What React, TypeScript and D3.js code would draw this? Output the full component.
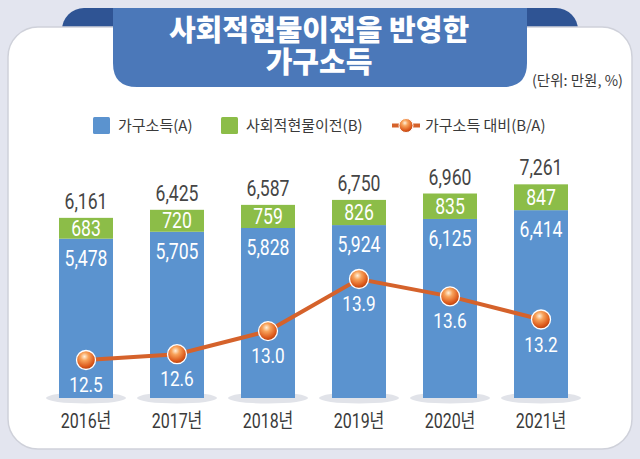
import React from 'react';
import * as d3 from 'd3';

const W = 640;
const H = 459;

const years = ['2016년', '2017년', '2018년', '2019년', '2020년', '2021년'];
const householdIncome = [5478, 5705, 5828, 5924, 6125, 6414];
const socialTransfer = [683, 720, 759, 826, 835, 847];
const ratio = [12.5, 12.6, 13.0, 13.9, 13.6, 13.2];

const titleLines = ['사회적현물이전을 반영한', '가구소득'];
const unitLabel = '(단위: 만원, %)';
const legendLabels = ['가구소득(A)', '사회적현물이전(B)', '가구소득 대비(B/A)'];

const C = {
  bg: '#e3e5ef',
  card: '#ffffff',
  banner: '#4b78b9',
  tab: '#2f5494',
  blue: '#5b93cf',
  green: '#8cbd48',
  line: '#d5622b',
  text: '#3a3a3a',
  shadow: '#e1e3e9',
};

const numFont = "Roboto, 'Noto Sans CJK KR', sans-serif";
const korFont = "'Noto Sans CJK KR', 'Noto Sans', sans-serif";

function CText({ x, y, sx = 0.8, size, fill, weight = 400, family = numFont, anchor = 'middle', children }: any) {
  return (
    <text
      transform={`translate(${x},${y}) scale(${sx},1)`}
      textAnchor={anchor}
      fontFamily={family}
      fontSize={size}
      fontWeight={weight}
      fill={fill}
    >
      {children}
    </text>
  );
}

export default function App() {
  const x = d3
    .scaleBand<string>()
    .domain(years)
    .range([40.5, 586.5])
    .paddingInner(0.4066)
    .paddingOuter(0.2033);
  const y = d3.scaleLinear().domain([250, 7600]).range([398, 174]);
  const yr = d3.scaleLinear().domain([12.5, 13.9]).range([360, 279]);
  const fmt = d3.format(',');
  const bw = x.bandwidth();
  const cx = (d: string) => (x(d) as number) + bw / 2;

  const linePath = d3
    .line<number>()
    .x((_, i) => cx(years[i]))
    .y((d) => yr(d))(ratio) as string;

  return (
    <svg width={W} height={H} style={{ position: 'fixed', left: 0, top: 0 }}>
      <defs>
        <radialGradient id="ball" cx="0.42" cy="0.32" r="0.7">
          <stop offset="0" stopColor="#fff1dc" />
          <stop offset="0.3" stopColor="#f8a25a" />
          <stop offset="0.75" stopColor="#dc5a1c" />
          <stop offset="1" stopColor="#b23d0c" />
        </radialGradient>
      </defs>
      <rect x={0} y={0} width={W} height={H} fill={C.bg} />
      {/* ribbon tabs */}
      <rect x={62} y={8} width={110} height={50} rx={22} fill={C.tab} />
      <rect x={468} y={8} width={110} height={50} rx={22} fill={C.tab} />
      {/* card */}
      <rect x={8} y={27} width={624} height={422} rx={30} fill={C.card} stroke="#cfd1da" strokeWidth={1.5} />
      {/* banner */}
      <path
        d={`M113,8 H527 V${87 - 24} Q527,87 ${527 - 24},87 H${113 + 24} Q113,87 113,${87 - 24} Z`}
        fill={C.banner}
      />
      <text
        textAnchor="middle"
        fontFamily={korFont}
        fontSize={29}
        fontWeight={900}
        fill="#ffffff"
      >
        {titleLines.map((t, i) => (
          <tspan key={t} x={319} y={41 + i * 32}>
            {t}
          </tspan>
        ))}
      </text>
      <text x={623} y={86} textAnchor="end" fontFamily={korFont} fontSize={14.5} fill={C.text}>
        {unitLabel}
      </text>

      {/* legend */}
      <rect x={93} y={117} width={17} height={17} rx={1.5} fill={C.blue} />
      <text x={118} y={130.5} fontFamily={korFont} fontSize={15} fill={C.text}>
        {legendLabels[0]}
      </text>
      <rect x={221} y={117} width={17} height={17} rx={1.5} fill={C.green} />
      <text x={246} y={130.5} fontFamily={korFont} fontSize={15} fill={C.text}>
        {legendLabels[1]}
      </text>
      <line x1={392} x2={420} y1={125.5} y2={125.5} stroke={C.line} strokeWidth={4} />
      <circle cx={406} cy={125.5} r={7} fill="url(#ball)" stroke="#ffffff" strokeWidth={1} />
      <text x={425} y={130.5} fontFamily={korFont} fontSize={15} fill={C.text}>
        {legendLabels[2]}
      </text>

      {/* bar shadows */}
      {years.map((d) => (
        <ellipse key={'s' + d} cx={cx(d)} cy={398} rx={40} ry={5.5} fill={C.shadow} />
      ))}

      {/* bars */}
      {years.map((d, i) => {
        const inc = householdIncome[i];
        const tr = socialTransfer[i];
        const tot = inc + tr;
        const yInc = y(inc);
        const yTot = y(tot);
        return (
          <g key={d}>
            <rect x={x(d)} y={yInc} width={bw} height={y(250) - yInc} fill={C.blue} />
            <rect x={x(d)} y={yTot} width={bw} height={yInc - yTot} fill={C.green} />
            <CText x={cx(d)} y={yTot - 9} size={22} fill="#454545">
              {fmt(tot)}
            </CText>
            <CText x={cx(d)} y={(yTot + yInc) / 2 + 7.5} size={22} fill="#ffffff">
              {fmt(tr)}
            </CText>
            <CText x={cx(d)} y={yInc + 27} size={22} fill="#ffffff">
              {fmt(inc)}
            </CText>
            <CText x={cx(d)} y={428} size={20} fill={C.text}>
              {d}
            </CText>
          </g>
        );
      })}

      {/* ratio line */}
      <path d={linePath} fill="none" stroke={C.line} strokeWidth={4} />
      {ratio.map((v, i) => (
        <g key={'r' + i}>
          <circle cx={cx(years[i])} cy={yr(v)} r={9.5} fill="url(#ball)" stroke="#ffffff" strokeWidth={1.3} />
          <CText x={cx(years[i])} y={yr(v) + 32} size={21} sx={0.82} fill="#ffffff">
            {v.toFixed(1)}
          </CText>
        </g>
      ))}
    </svg>
  );
}
